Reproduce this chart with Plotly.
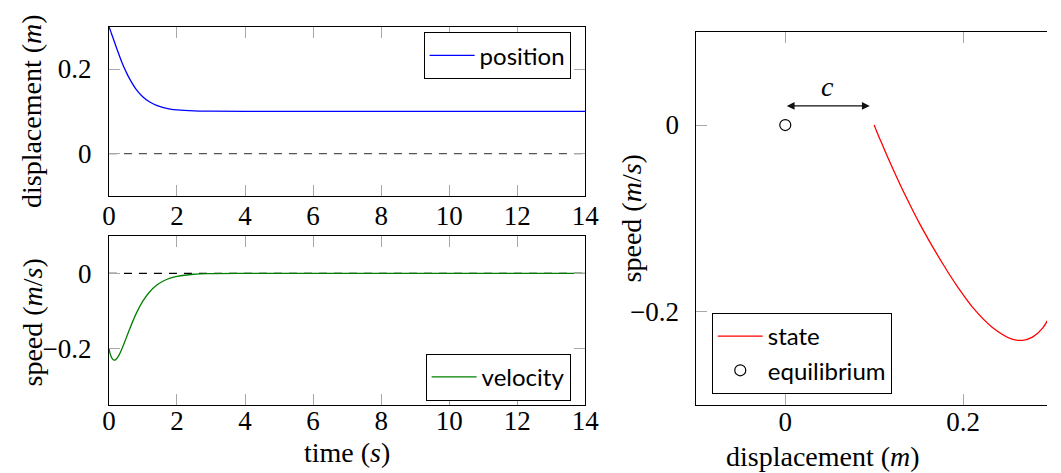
import plotly.graph_objects as go

# ---- data ----
time = [0, 0.05, 0.1, 0.15, 0.2, 0.3, 0.4, 0.5, 0.6, 0.8, 1.0, 1.2, 1.4, 1.6,
        1.8, 2.0, 2.5, 3, 4, 6, 8, 10, 12, 14]
position = [0.300, 0.2895, 0.278, 0.267, 0.255, 0.233, 0.212, 0.194, 0.178,
            0.152, 0.134, 0.122, 0.114, 0.109, 0.1055, 0.1034, 0.101, 0.1003,
            0.1, 0.1, 0.1, 0.1, 0.1, 0.1]
velocity = [-0.200, -0.2177, -0.2273, -0.2307, -0.2294, -0.2169, -0.1968,
            -0.1736, -0.1500, -0.1072, -0.0734, -0.0489, -0.0319, -0.0205,
            -0.0130, -0.0082, -0.0025, -0.0007, 0, 0, 0, 0, 0, 0]
equilibrium_x = [0.0]
equilibrium_v = [0.0]
offset_c = 0.095        # width of the "c" arrow (m)
arrow_level = 0.0205    # speed level of the arrow
zero_ref = 0.0

W, H = 1061, 473
def fx(p): return p / W
def fy(p): return 1 - p / H

SERIF = "Liberation Serif"
SANS = "Lato"
tickfont = dict(family=SERIF, size=27, color="black")

def axis(**kw):
    d = dict(showline=True, linecolor="black", linewidth=1, mirror="ticks",
             ticks="inside", ticklen=11, tickcolor="#a8a8a8", tickwidth=1,
             showgrid=False, zeroline=False, tickfont=tickfont)
    d.update(kw)
    return d

fig = go.Figure()

fig.add_trace(go.Scatter(x=time, y=position, mode="lines", name="position",
                         line=dict(color="#0000ff", width=1.3, shape="spline"),
                         xaxis="x", yaxis="y", legend="legend"))
fig.add_trace(go.Scatter(x=time, y=velocity, mode="lines", name="velocity",
                         line=dict(color="#008000", width=1.3, shape="spline"),
                         xaxis="x2", yaxis="y2", legend="legend2"))
fig.add_trace(go.Scatter(x=position, y=velocity, mode="lines", name="state",
                         line=dict(color="#ff0000", width=1.3, shape="spline"),
                         xaxis="x3", yaxis="y3", legend="legend3"))
fig.add_trace(go.Scatter(x=equilibrium_x, y=equilibrium_v, mode="markers",
                         name="equilibrium",
                         marker=dict(symbol="circle-open", size=11, color="black",
                                     line=dict(width=1.2, color="black")),
                         xaxis="x3", yaxis="y3", legend="legend3"))

# dashed zero reference lines
fig.add_shape(type="line", xref="x domain", yref="y", x0=0, x1=1,
              y0=zero_ref, y1=zero_ref, line=dict(color="#555555", width=1.3, dash="8px,7px"),
              layer="below")
fig.add_shape(type="line", xref="x2 domain", yref="y2", x0=0, x1=1,
              y0=zero_ref, y1=zero_ref, line=dict(color="black", width=1.3, dash="8px,7px"),
              layer="below")

# "c" double arrow
fig.add_annotation(x=offset_c, y=arrow_level, ax=equilibrium_x[0], ay=arrow_level,
                   xref="x3", yref="y3", axref="x3", ayref="y3", text="",
                   showarrow=True, arrowhead=2, startarrowhead=2, arrowside="end+start",
                   arrowsize=1.2, startarrowsize=1.2, arrowwidth=1.3, arrowcolor="#111111",
                   standoff=0, startstandoff=0)
fig.add_annotation(x=offset_c / 2, y=arrow_level, xref="x3", yref="y3",
                   text="<i>c</i>", showarrow=False, yanchor="bottom", yshift=2,
                   font=dict(family=SERIF, size=28, color="black"))

# axis titles
titles = [
    ("displacement (<i>m</i>)", 24.5, 111, -90),
    ("speed (<i>m</i>/<i>s</i>)", 26, 322, -90),
    ("speed (<i>m</i>/<i>s</i>)", 637, 218, -90),
    ("time (<i>s</i>)", 347, 452, 0),
    ("displacement (<i>m</i>)", 832, 456, 0),
]
for txt, px, py, ang in titles:
    fig.add_annotation(x=fx(px), y=fy(py), xref="paper", yref="paper", text=txt,
                       showarrow=False, textangle=ang, xanchor="center", yanchor="middle",
                       font=dict(family=SERIF, size=28, color="black"))

legend_common = dict(bordercolor="black", borderwidth=1, bgcolor="white",
                     font=dict(family=SANS, size=24, color="black"),
                     itemwidth=45, tracegroupgap=0)

fig.update_layout(
    width=W, height=H, margin=dict(l=0, r=0, t=0, b=0),
    font=dict(family=SERIF, color="black"),
    paper_bgcolor="white", plot_bgcolor="white", showlegend=True,
    xaxis=axis(domain=[fx(104), fx(590)], range=[0, 14], dtick=2, tick0=0, anchor="y",
               ticklabelstandoff=-4),
    yaxis=axis(domain=[fy(196), fy(26.7)], range=[-0.1, 0.3], dtick=0.2, tick0=0, anchor="x",
               ticklabelstandoff=11),
    xaxis2=axis(domain=[fx(104), fx(590)], range=[0, 14], dtick=2, tick0=0, anchor="y2",
                ticklabelstandoff=-8),
    yaxis2=axis(domain=[fy(405), fy(235.7)], range=[-0.35, 0.1], dtick=0.2, tick0=0, anchor="x2",
                ticklabelstandoff=11),
    xaxis3=axis(domain=[fx(703.3), 1.0], range=[-0.1, 0.2944], dtick=0.2, tick0=0, anchor="y3",
                ticklabelstandoff=-7),
    yaxis3=axis(domain=[fy(405), fy(31.7)], range=[-0.3, 0.1], dtick=0.2, tick0=0, anchor="x3",
                mirror=False, ticklabelstandoff=11),
    legend=dict(x=fx(575), y=fy(32.3), xanchor="right", yanchor="top", **legend_common),
    legend2=dict(x=fx(575), y=fy(400.7), xanchor="right", yanchor="bottom", **legend_common),
    legend3=dict(x=fx(719), y=fy(394), xanchor="left", yanchor="bottom", **legend_common),
)

fig.write_html("out.html")
